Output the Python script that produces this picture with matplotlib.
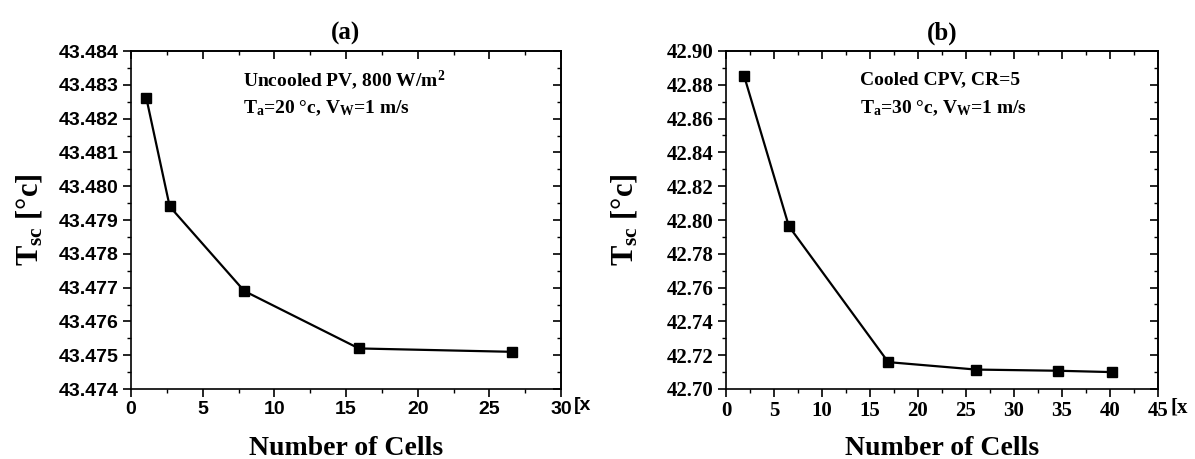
import matplotlib
matplotlib.use('Agg')
import matplotlib.pyplot as plt
from matplotlib.ticker import MultipleLocator, AutoMinorLocator, FormatStrFormatter

# panel (a): uncooled PV
cells_a = [1.07, 2.7, 7.9, 15.9, 26.6]
tsc_a = [43.48261, 43.47940, 43.47690, 43.47520, 43.47510]

# panel (b): cooled CPV
cells_b = [1.9, 6.55, 16.9, 26.05, 34.6, 40.2]
tsc_b = [42.8850, 42.7963, 42.7159, 42.7115, 42.7108, 42.7100]

serif = 'Liberation Serif'
sans = 'Liberation Sans'

plt.rcParams['mathtext.fontset'] = 'custom'
plt.rcParams['mathtext.rm'] = 'Liberation Serif:bold'
plt.rcParams['mathtext.bf'] = 'Liberation Serif:bold'
plt.rcParams['mathtext.it'] = 'Liberation Serif:bold'
plt.rcParams['axes.linewidth'] = 1.2

fig = plt.figure(figsize=(11.95, 4.59), dpi=100)
ax_a = fig.add_axes([131 / 1195, 1 - 389 / 459, 430 / 1195, 338 / 459])
ax_b = fig.add_axes([726 / 1195, 1 - 389 / 459, 432 / 1195, 338 / 459])


def style_axes(ax, tickfont, ticksize, xmax, xstep, ymin, ymax, ystep, yfmt):
	ax.set_xlim(0, xmax)
	ax.set_ylim(ymin, ymax)
	ax.xaxis.set_major_locator(MultipleLocator(xstep))
	ax.xaxis.set_minor_locator(AutoMinorLocator(2))
	ax.yaxis.set_major_locator(MultipleLocator(ystep))
	ax.yaxis.set_minor_locator(AutoMinorLocator(2))
	ax.yaxis.set_major_formatter(FormatStrFormatter(yfmt))
	ax.tick_params(which='major', direction='out', length=6, width=1.2, pad=3)
	ax.tick_params(which='minor', direction='out', length=3, width=1.0)
	for lab in ax.get_xticklabels() + ax.get_yticklabels():
		lab.set_fontfamily(tickfont)
		lab.set_fontweight('bold')
		lab.set_fontsize(ticksize)
	# mirrored ticks on top/right pointing inwards
	top = ax.secondary_xaxis('top')
	top.xaxis.set_major_locator(MultipleLocator(xstep))
	top.xaxis.set_minor_locator(AutoMinorLocator(2))
	top.tick_params(which='major', direction='in', length=6, width=1.2, labeltop=False)
	top.tick_params(which='minor', direction='in', length=3, width=1.0)
	right = ax.secondary_yaxis('right')
	right.yaxis.set_major_locator(MultipleLocator(ystep))
	right.yaxis.set_minor_locator(AutoMinorLocator(2))
	right.tick_params(which='major', direction='in', length=6, width=1.2, labelright=False)
	right.tick_params(which='minor', direction='in', length=3, width=1.0)
	ax.set_xlabel('Number of Cells', fontfamily=serif, fontweight='bold', fontsize=20)
	ax.xaxis.set_label_coords(0.5, -0.14)
	ax.set_ylabel(r'T$_{\mathbf{sc}}$ [°c]', fontfamily=serif, fontweight='bold', fontsize=22)
	ax.yaxis.set_label_coords(-0.2, 0.5)


ax_a.plot(cells_a, tsc_a, color='black', lw=1.6, marker='s', ms=7.5)
style_axes(ax_a, sans, 14, 30, 5, 43.474, 43.484, 0.001, '%.3f')
ax_a.set_title('(a)', fontfamily=serif, fontweight='bold', fontsize=18, pad=8)
ax_a.annotate('[x', xy=(1, 0), xycoords='axes fraction', xytext=(9, -6),
		textcoords='offset points', ha='left', va='top',
		fontfamily=sans, fontweight='bold', fontsize=14)
ax_a.text(0.26, 0.915, r'Uncooled PV, 800 W/m$^{2}$', transform=ax_a.transAxes,
		fontfamily=serif, fontweight='bold', fontsize=14, va='center')
ax_a.text(0.26, 0.830, r'T$_{\mathbf{a}}$=20 °c, V$_{\mathbf{W}}$=1 m/s', transform=ax_a.transAxes,
		fontfamily=serif, fontweight='bold', fontsize=14, va='center')

ax_b.plot(cells_b, tsc_b, color='black', lw=1.6, marker='s', ms=7.5)
style_axes(ax_b, serif, 15, 45, 5, 42.70, 42.90, 0.02, '%.2f')
ax_b.set_title('(b)', fontfamily=serif, fontweight='bold', fontsize=18, pad=8)
ax_b.annotate('[x', xy=(1, 0), xycoords='axes fraction', xytext=(9, -6),
		textcoords='offset points', ha='left', va='top',
		fontfamily=serif, fontweight='bold', fontsize=15)
ax_b.text(0.31, 0.915, 'Cooled CPV, CR=5', transform=ax_b.transAxes,
		fontfamily=serif, fontweight='bold', fontsize=14, va='center')
ax_b.text(0.31, 0.830, r'T$_{\mathbf{a}}$=30 °c, V$_{\mathbf{W}}$=1 m/s', transform=ax_b.transAxes,
		fontfamily=serif, fontweight='bold', fontsize=14, va='center')

fig.savefig('out.png', dpi=100)
